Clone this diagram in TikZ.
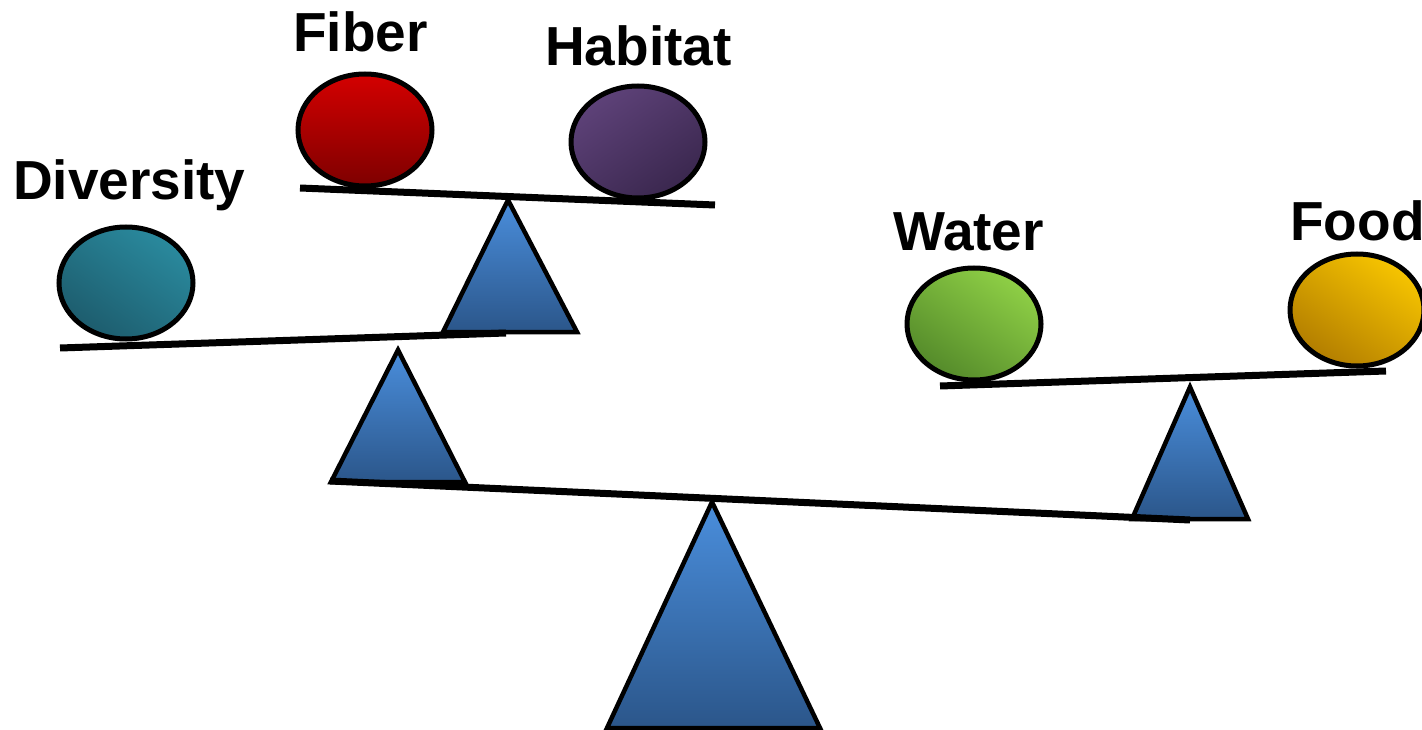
\documentclass[tikz,border=0pt]{standalone}
\usepackage{fontspec}
\setmainfont{Liberation Sans}
\usetikzlibrary{shapes.geometric}
\definecolor{redT}{HTML}{D40000}
\definecolor{redB}{HTML}{7E0000}
\definecolor{purT}{HTML}{5E4279}
\definecolor{purB}{HTML}{3A274E}
\definecolor{tealT}{HTML}{2A8A9E}
\definecolor{tealB}{HTML}{1D5C6D}
\definecolor{grnT}{HTML}{8FD046}
\definecolor{grnB}{HTML}{548A2A}
\definecolor{ylwT}{HTML}{F7C500}
\definecolor{ylwB}{HTML}{B27D00}
\definecolor{bluT}{HTML}{4A8EDC}
\definecolor{bluB}{HTML}{2B568A}
\tikzset{
  ball/.style={ellipse, draw=black, line width=5pt, inner sep=0pt,
    minimum width=134pt, minimum height=112pt},
  lbl/.style={font=\fontsize{55}{60}\selectfont\bfseries, inner sep=0pt, anchor=base west},
  beam/.style={line width=7pt, line cap=butt},
  fulcrum/.style={draw=black, line width=4.5pt, line join=miter,
    top color=bluT, bottom color=bluB}
}
\begin{document}
\begin{tikzpicture}[x=1pt,y=-1pt]
\useasboundingbox (0,0) rectangle (1422,730);
% fulcrums
\path[fulcrum] (712,502) -- (820,728) -- (607,728) -- cycle;
\path[fulcrum] (398,350) -- (465,482) -- (331,482) -- cycle;
\path[fulcrum] (508,200) -- (577,332) -- (443,332) -- cycle;
\path[fulcrum] (1190,387) -- (1248,519) -- (1132,519) -- cycle;
% beams
\coordinate (mainL) at (330,481);
\coordinate (mainR) at (1190,520);
\draw[beam] (mainL) -- (mainR);
\coordinate (midL) at (60,348);
\coordinate (midR) at (506,333);
\draw[beam] (midL) -- (midR);
\coordinate (topL) at (300,188);
\coordinate (topR) at (715,205);
\draw[beam] (topL) -- (topR);
\coordinate (rgtL) at (940,386);
\coordinate (rgtR) at (1386,371);
\draw[beam] (rgtL) -- (rgtR);
% balls
\node[ball, top color=redT, bottom color=redB] (fiber) at (365,130) {};
\node[ball, top color=purT, bottom color=purB, shading angle=35] (habitat) at (638,142) {};
\node[ball, top color=tealT, bottom color=tealB, shading angle=-35] (diversity) at (126,283) {};
\node[ball, top color=grnT, bottom color=grnB, shading angle=-35] (water) at (974,324) {};
\node[ball, top color=ylwT, bottom color=ylwB, shading angle=-35] (food) at (1357,310) {};
% labels
\node[lbl] (tdiv) at (13,200) {Diversity};
\node[lbl] (tfib) at (293,52) {Fiber};
\node[lbl] (thab) at (545,66) {Habitat};
\node[lbl] (twat) at (893,251) {Water};
\node[lbl] (tfood) at (1290,241) {Food};
\end{tikzpicture}
\end{document}
